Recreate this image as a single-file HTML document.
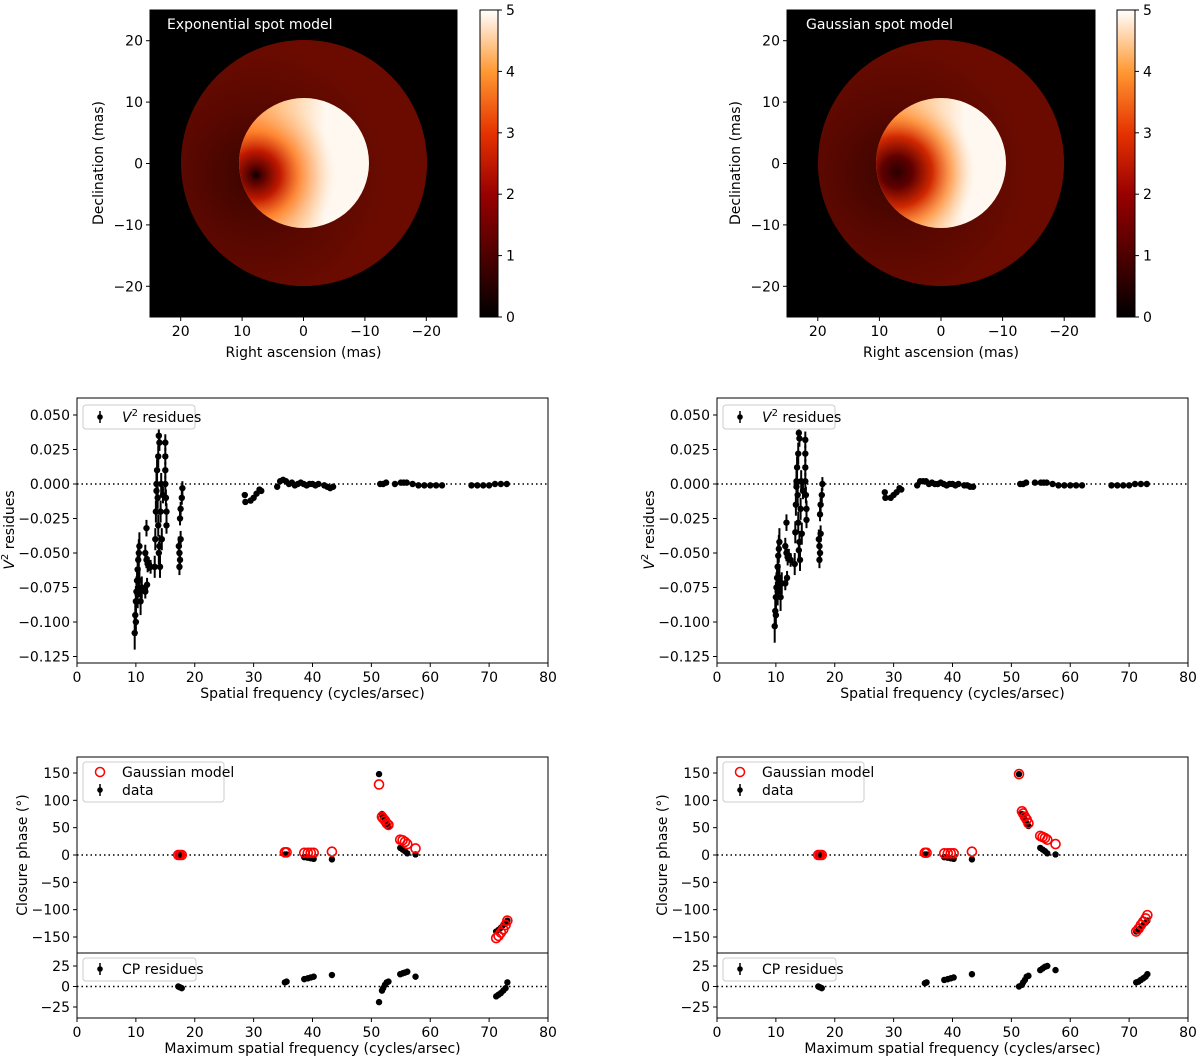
<!DOCTYPE html>
<html><head><meta charset="utf-8"><style>
body{margin:0;background:#fff;}
svg{display:block;font-family:"DejaVu Sans","Liberation Sans",sans-serif;}
</style></head><body>
<svg id="fig" width="1200" height="1058" viewBox="0 0 1200 1058" xmlns="http://www.w3.org/2000/svg">
<defs>
<linearGradient id="cbar" x1="0" y1="1" x2="0" y2="0">
<stop offset="0" stop-color="#000000"/><stop offset="0.2" stop-color="#4d0000"/><stop offset="0.4" stop-color="#990000"/><stop offset="0.6" stop-color="#e63300"/><stop offset="0.8" stop-color="#ff9933"/><stop offset="1" stop-color="#ffffff"/>
</linearGradient>
<linearGradient id="diskL" gradientUnits="userSpaceOnUse" x1="239" y1="0" x2="325" y2="0">
<stop offset="0" stop-color="#ff8a30"/><stop offset="0.5" stop-color="#ffc890"/><stop offset="1" stop-color="#fff8f0"/></linearGradient>
<radialGradient id="spotL" gradientUnits="userSpaceOnUse" cx="256" cy="175" r="80">
<stop offset="0" stop-color="#0a0000" stop-opacity="1"/><stop offset="0.08" stop-color="#500000" stop-opacity="1"/><stop offset="0.3" stop-color="#c01800" stop-opacity="1"/><stop offset="0.55" stop-color="#ff7a20" stop-opacity="0.8"/><stop offset="1" stop-color="#ffd0a0" stop-opacity="0"/></radialGradient>
<radialGradient id="ringL" gradientUnits="userSpaceOnUse" cx="256" cy="175" r="130">
<stop offset="0" stop-color="#1a0000"/><stop offset="0.5" stop-color="#4a0600"/><stop offset="1" stop-color="#6b0c00"/></radialGradient>
<linearGradient id="diskR" gradientUnits="userSpaceOnUse" x1="876" y1="0" x2="965" y2="0">
<stop offset="0" stop-color="#ff8a30"/><stop offset="0.5" stop-color="#ffc890"/><stop offset="1" stop-color="#fff8f0"/></linearGradient>
<radialGradient id="spotR" gradientUnits="userSpaceOnUse" cx="897" cy="172" r="78">
<stop offset="0" stop-color="#2a0000" stop-opacity="1"/><stop offset="0.2" stop-color="#600000" stop-opacity="1"/><stop offset="0.45" stop-color="#d02800" stop-opacity="1"/><stop offset="0.7" stop-color="#ff8a30" stop-opacity="0.7"/><stop offset="1" stop-color="#ffd0a0" stop-opacity="0"/></radialGradient>
<radialGradient id="ringR" gradientUnits="userSpaceOnUse" cx="897" cy="172" r="130">
<stop offset="0" stop-color="#1a0000"/><stop offset="0.5" stop-color="#4a0600"/><stop offset="1" stop-color="#6b0c00"/></radialGradient>
</defs>

<g>
<rect x="150" y="10" width="307" height="307" fill="#000"/>
<circle cx="304" cy="163" r="123" fill="#6b0a00"/>
<circle cx="304" cy="163" r="123" fill="url(#ringL)" opacity="0.6"/>
<circle cx="304" cy="163" r="65" fill="url(#diskL)"/>
<circle cx="304" cy="163" r="65" fill="url(#spotL)"/>
<rect x="150" y="10" width="307" height="307" fill="none" stroke="#000" stroke-width="1"/>
<text x="167" y="29" fill="#fff" font-size="14">Exponential spot model</text>
</g>
<g>
<rect x="787" y="10" width="308" height="307" fill="#000"/>
<circle cx="941" cy="163" r="123" fill="#6b0a00"/>
<circle cx="941" cy="163" r="123" fill="url(#ringR)" opacity="0.6"/>
<circle cx="941" cy="163" r="65" fill="url(#diskR)"/>
<circle cx="941" cy="163" r="65" fill="url(#spotR)"/>
<rect x="787" y="10" width="308" height="307" fill="none" stroke="#000" stroke-width="1"/>
<text x="806" y="29" fill="#fff" font-size="14">Gaussian spot model</text>
</g>
<g id="layer"></g>
</svg>
<script>
// ---- data ----
const imgTicksX = [20, 10, 0, -10, -20];
const imgTicksY = [20, 10, 0, -10, -20];
const cbarTicks = [0, 1, 2, 3, 4, 5];
const freqTicks = [0, 10, 20, 30, 40, 50, 60, 70, 80];
const v2Ticks = [0.050, 0.025, 0.000, -0.025, -0.050, -0.075, -0.100, -0.125];
const cpTicks = [150, 100, 50, 0, -50, -100, -150];
const resTicks = [25, 0, -25];

const v2FreqL = [9.8,9.9,10.0,10.1,10.2,10.3,10.4,10.5,10.6,10.0,10.3,10.6,10.8,11.0,11.8,11.6,11.8,12.0,11.6,11.9,12.2,12.5,13.2,13.3,13.4,13.5,13.6,13.8,14.0,13.9,13.5,13.7,13.8,14.0,14.1,14.2,14.3,14.4,13.9,14.6,15.0,15.0,15.0,15.0,15.1,15.2,15.2,17.3,17.4,17.5,17.6,17.5,17.6,17.8,17.9,17.4,28.5,28.6,29.5,30.0,30.5,31.0,31.3,34.0,34.5,35.0,35.5,36.0,36.5,37.0,37.5,38.0,38.5,39.0,39.5,40.0,40.5,41.0,42.0,42.5,43.0,43.5,51.5,52.0,52.5,54.0,55.0,55.5,56.0,57.0,58.0,59.0,60.0,61.0,62.0,67.0,68.0,69.0,70.0,71.0,72.0,73.0];
const v2ValL = [-0.108,-0.095,-0.085,-0.078,-0.070,-0.062,-0.055,-0.050,-0.045,-0.100,-0.080,-0.070,-0.085,-0.075,-0.032,-0.050,-0.055,-0.058,-0.078,-0.073,-0.058,-0.060,-0.060,-0.040,-0.020,0.000,0.010,0.020,0.030,0.035,-0.005,-0.010,-0.030,-0.045,-0.060,-0.020,0.000,-0.040,-0.050,-0.008,0.030,0.020,0.010,0.000,-0.010,-0.020,-0.030,-0.045,-0.050,-0.055,-0.040,-0.025,-0.018,-0.010,-0.003,-0.060,-0.008,-0.013,-0.012,-0.010,-0.007,-0.004,-0.005,-0.002,0.002,0.003,0.002,0.000,0.001,-0.001,0.000,0.001,0.000,-0.001,0.000,0.000,-0.001,0.000,-0.001,-0.002,-0.003,-0.002,0.000,0.000,0.001,0.000,0.001,0.001,0.001,0.000,-0.001,-0.001,-0.001,-0.001,-0.001,-0.001,-0.001,-0.001,-0.001,0.000,0.000,0.000];
const v2ValR = [-0.103,-0.092,-0.082,-0.075,-0.068,-0.060,-0.052,-0.047,-0.042,-0.095,-0.078,-0.068,-0.082,-0.072,-0.028,-0.045,-0.050,-0.053,-0.072,-0.068,-0.052,-0.055,-0.058,-0.035,-0.015,0.002,0.012,0.022,0.033,0.037,-0.002,-0.008,-0.028,-0.042,-0.055,-0.018,0.002,-0.036,-0.048,-0.005,0.032,0.022,0.012,0.002,-0.008,-0.018,-0.026,-0.040,-0.045,-0.050,-0.036,-0.022,-0.015,-0.008,0.000,-0.055,-0.006,-0.010,-0.010,-0.008,-0.006,-0.003,-0.004,-0.001,0.002,0.002,0.002,0.000,0.001,0.000,0.000,0.001,0.000,-0.001,0.000,0.000,-0.001,0.000,-0.001,-0.001,-0.002,-0.002,0.000,0.000,0.001,0.001,0.001,0.001,0.001,0.000,-0.001,-0.001,-0.001,-0.001,-0.001,-0.001,-0.001,-0.001,-0.001,0.000,0.000,0.000];
const v2Err = [0.012,0.012,0.011,0.011,0.010,0.010,0.010,0.010,0.010,0.010,0.010,0.010,0.010,0.008,0.006,0.006,0.006,0.006,0.005,0.005,0.005,0.005,0.008,0.008,0.008,0.008,0.008,0.008,0.006,0.006,0.008,0.008,0.008,0.008,0.008,0.008,0.008,0.008,0.008,0.006,0.006,0.006,0.006,0.006,0.006,0.006,0.006,0.007,0.007,0.007,0.006,0.005,0.005,0.005,0.005,0.006,0.002,0.002,0.002,0.002,0.002,0.002,0.002,0.002,0.002,0.002,0.002,0.002,0.002,0.002,0.002,0.002,0.002,0.002,0.002,0.002,0.002,0.002,0.002,0.002,0.002,0.002,0.001,0.001,0.001,0.001,0.001,0.001,0.001,0.001,0.001,0.001,0.001,0.001,0.001,0.001,0.001,0.001,0.001,0.001,0.001,0.001];

const cpFreq = [17.2,17.5,17.8,35.3,35.6,38.6,39.2,39.7,40.2,43.3,51.3,51.8,52.0,52.3,52.6,52.9,54.9,55.3,55.7,56.1,57.5,71.2,71.6,72.0,72.4,72.8,73.1];
const cpData = [0,0,0,1,1,-4,-5,-6,-7,-8,148,75,70,65,58,53,13,10,7,3,1,-140,-137,-133,-128,-124,-120];
const cpModelL = [0,0,0,5,5,4,4,4,4,6,129,70,67,63,58,55,28,27,24,20,12,-152,-148,-142,-136,-128,-120];
const cpModelR = [0,0,0,4,4,3,3,3,3,6,148,80,76,70,65,58,35,33,31,28,20,-140,-135,-128,-122,-116,-110];
const cpResL = [0,-1,-2,5,6,9,10,11,12,14,-19,-5,-2,2,5,6,15,16,17,18,12,-12,-10,-8,-5,-2,5];
const cpResR = [0,-1,-2,4,5,8,9,10,11,15,0,2,5,8,12,13,20,22,24,25,20,5,6,8,10,12,15];

// ---- helpers ----
const NS = "http://www.w3.org/2000/svg";
const layer = document.getElementById('layer');
function mk(tag, attrs, parent) {
  const e = document.createElementNS(NS, tag);
  for (const k in attrs) e.setAttribute(k, attrs[k]);
  (parent || layer).appendChild(e);
  return e;
}
function txt(x, y, s, size, anchor, parent, extra) {
  const t = mk('text', Object.assign({x: x, y: y, 'font-size': size, 'text-anchor': anchor, fill: '#000'}, extra || {}), parent);
  t.textContent = s;
  return t;
}
function lin(d0, d1, p0, p1) { return v => p0 + (v - d0) * (p1 - p0) / (d1 - d0); }
function fmt(v, dec) { const s = v.toFixed(dec); return v < 0 ? '\u2212' + s.slice(1) : s; }

function yTicks(g, x0, ys, ticks, dec) {
  ticks.forEach(t => {
    const y = ys(t);
    mk('line', {x1: x0 - 4, x2: x0, y1: y, y2: y, stroke: '#000', 'stroke-width': 1}, g);
    const l = txt(x0 - 7, y + 5, fmt(t, dec), 14, 'end', g);
    
    
  });
}
function xTicks(g, y0, xs, ticks, dec) {
  ticks.forEach(t => {
    const x = xs(t);
    mk('line', {x1: x, x2: x, y1: y0, y2: y0 + 4, stroke: '#000', 'stroke-width': 1}, g);
    const l = txt(x, y0 + 19, fmt(t, dec), 14, 'middle', g);
    
    
  });
}
function frame(g, x0, y0, w, h) {
  mk('rect', {x: x0, y: y0, width: w, height: h, fill: 'none', stroke: '#000', 'stroke-width': 1}, g);
}
function ylabel(g, x, y, s) {
  const t = txt(x, y, s, 14, 'middle', g, {transform: 'rotate(-90 ' + x + ' ' + y + ')'});
  
  
  return t;
}
function xlabel(g, x, y, s) {
  const t = txt(x, y, s, 14, 'middle', g);
  
  
  return t;
}
function zeroLine(g, x0, x1, y) {
  mk('line', {x1: x0, x2: x1, y1: y, y2: y, stroke: '#000', 'stroke-width': 1.5, 'stroke-dasharray': '1.5,3'}, g);
}
function errPoint(g, x, y, yErrPx, name) {
  const p = mk('g', {}, g);
  
  
  mk('line', {x1: x, x2: x, y1: y - yErrPx, y2: y + yErrPx, stroke: '#000', 'stroke-width': 2}, p);
  mk('circle', {cx: x, cy: y, r: 3.2, fill: '#000'}, p);
}
function legendErrGlyph(g, x, y) {
  mk('line', {x1: x, x2: x, y1: y - 6, y2: y + 6, stroke: '#000', 'stroke-width': 1.5}, g);
  mk('circle', {cx: x, cy: y, r: 2.8, fill: '#000'}, g);
}

// ---- image panels axes ----
[{x0: 150, w: 307, cb: 480, label: 'left'}, {x0: 787, w: 308, cb: 1117, label: 'right'}].forEach(p => {
  const g = mk('g', {});
  
  
  const xs = lin(25, -25, p.x0, p.x0 + p.w);
  const ys = lin(25, -25, 10, 317);
  xTicks(g, 317, xs, imgTicksX, 0);
  yTicks(g, p.x0, ys, imgTicksY, 0);
  ylabel(g, p.x0 - 47, 163, 'Declination (mas)');
  xlabel(g, p.x0 + p.w / 2, 357, 'Right ascension (mas)');
  const cb = mk('g', {});
  
  
  mk('rect', {x: p.cb, y: 10, width: 18, height: 307, fill: 'url(#cbar)', stroke: '#000', 'stroke-width': 1}, cb);
  const cs = lin(0, 5, 317, 10);
  cbarTicks.forEach(t => {
    const y = cs(t);
    mk('line', {x1: p.cb + 18, x2: p.cb + 22, y1: y, y2: y, stroke: '#000'}, cb);
    const l = txt(p.cb + 26, y + 5, String(t), 14, 'start', cb);
    
    
  });
});

// ---- V2 panels ----
[{x0: 77, val: v2ValL, label: 'left'}, {x0: 717, val: v2ValR, label: 'right'}].forEach(p => {
  const g = mk('g', {});
  
  
  const W = 471, y0 = 398, y1 = 663;
  const xs = lin(0, 80, p.x0, p.x0 + W);
  const yS = v => 484 - v * 1380;
  zeroLine(g, p.x0, p.x0 + W, yS(0));
  v2FreqL.forEach((f, i) => {
    errPoint(g, xs(f), yS(p.val[i]), v2Err[i] * 1380, 'v2-point');
  });
  frame(g, p.x0, y0, W, y1 - y0);
  xTicks(g, y1, xs, freqTicks, 0);
  yTicks(g, p.x0, yS, v2Ticks, 3);
  const yl = ylabel(g, p.x0 - 63, 530, '');
  const t1 = mk('tspan', {'font-style': 'italic'}, yl); t1.textContent = 'V';
  const t2 = mk('tspan', {'font-size': 10, dy: -6}, yl); t2.textContent = '2';
  const t3 = mk('tspan', {dy: 6}, yl); t3.textContent = ' residues';
  xlabel(g, p.x0 + W / 2, 698, 'Spatial frequency (cycles/arsec)');
  const lg = mk('g', {}, g);
  
  
  mk('rect', {x: p.x0 + 6, y: 405, width: 112, height: 24, rx: 3, fill: '#fff', stroke: '#ccc'}, lg);
  legendErrGlyph(lg, p.x0 + 23, 417);
  const lt = txt(p.x0 + 45, 422, '', 14, 'start', lg);
  const a = mk('tspan', {'font-style': 'italic'}, lt); a.textContent = 'V';
  const b = mk('tspan', {'font-size': 10, dy: -6}, lt); b.textContent = '2';
  const c = mk('tspan', {dy: 6}, lt); c.textContent = ' residues';
});

// ---- Closure phase panels ----
[{x0: 77, model: cpModelL, res: cpResL, label: 'left'}, {x0: 717, model: cpModelR, res: cpResR, label: 'right'}].forEach(p => {
  const W = 471;
  const xs = lin(0, 80, p.x0, p.x0 + W);
  const g = mk('g', {});
  
  
  const yS = lin(150, -150, 773, 937);
  zeroLine(g, p.x0, p.x0 + W, yS(0));
  cpFreq.forEach((f, i) => {
    errPoint(g, xs(f), yS(cpData[i]), 2.5, 'cp-data-point');
  });
  cpFreq.forEach((f, i) => {
    const c = mk('circle', {cx: xs(f), cy: yS(p.model[i]), r: 4.5, fill: 'none', stroke: '#ff0000', 'stroke-width': 1.6}, g);
    
    
  });
  frame(g, p.x0, 757, W, 196);
  yTicks(g, p.x0, yS, cpTicks, 0);
  ylabel(g, p.x0 - 50, 855, 'Closure phase (\u00b0)');
  const lg = mk('g', {}, g);
  
  
  mk('rect', {x: p.x0 + 6, y: 762, width: 141, height: 40, rx: 3, fill: '#fff', stroke: '#ccc'}, lg);
  mk('circle', {cx: p.x0 + 23, cy: 772, r: 4.5, fill: 'none', stroke: '#ff0000', 'stroke-width': 1.5}, lg);
  txt(p.x0 + 45, 777, 'Gaussian model', 14, 'start', lg);
  legendErrGlyph(lg, p.x0 + 23, 790);
  txt(p.x0 + 45, 795, 'data', 14, 'start', lg);

  const r = mk('g', {});
  
  
  const rS = lin(25, -25, 966, 1007);
  zeroLine(r, p.x0, p.x0 + W, rS(0));
  cpFreq.forEach((f, i) => {
    errPoint(r, xs(f), rS(p.res[i]), 3, 'cp-residue-point');
  });
  frame(r, p.x0, 953, W, 65);
  yTicks(r, p.x0, rS, resTicks, 0);
  xTicks(r, 1018, xs, freqTicks, 0);
  xlabel(r, p.x0 + W / 2, 1053, 'Maximum spatial frequency (cycles/arsec)');
  const rl = mk('g', {}, r);
  
  
  mk('rect', {x: p.x0 + 6, y: 958, width: 113, height: 23, rx: 3, fill: '#fff', stroke: '#ccc'}, rl);
  legendErrGlyph(rl, p.x0 + 23, 969);
  txt(p.x0 + 45, 974, 'CP residues', 14, 'start', rl);
});
</script>
</body></html>
